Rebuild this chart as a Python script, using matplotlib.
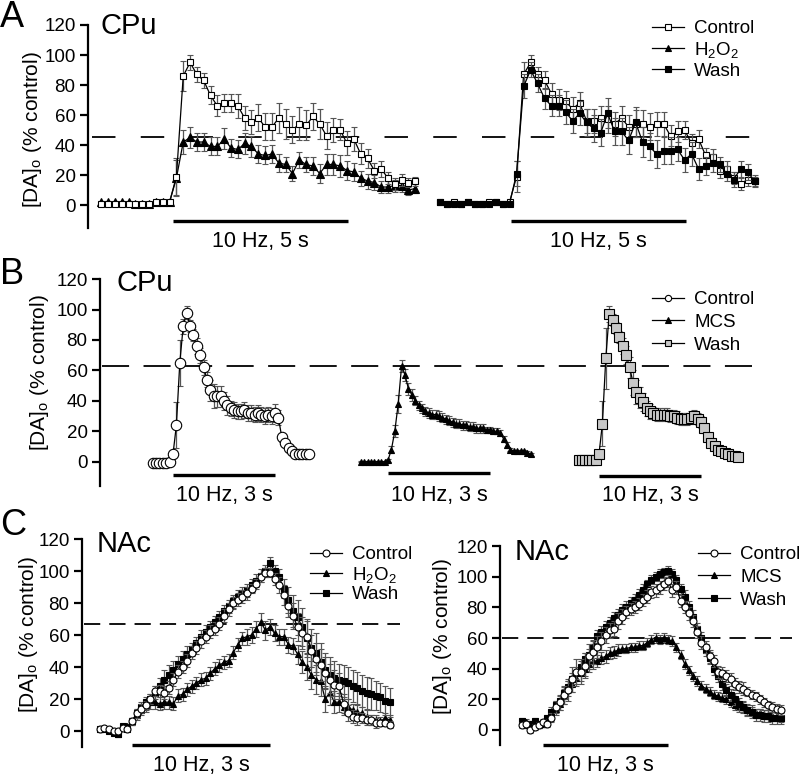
import numpy as np
import matplotlib
matplotlib.use('Agg')
import matplotlib.pyplot as plt
from matplotlib.lines import Line2D

plt.rcParams['font.family'] = ['Liberation Sans', 'DejaVu Sans']
plt.rcParams['mathtext.fontset'] = 'custom'
plt.rcParams['mathtext.rm'] = 'Liberation Sans'
plt.rcParams['mathtext.it'] = 'Liberation Sans:italic'

# ---------------- DATA ----------------
# Panel A (CPu, 10 Hz 5 s), sampling ~0.2 s
a_dt_left = 0.195
a_dt_right = 0.2
a_left_control = [1, 1, 1, 1, 1, 1, 1, 1, 2, 2, 2,
                  19, 86, 95, 87, 83, 73, 66, 68, 68, 66, 58, 55, 58, 52, 52, 58, 54, 50, 54, 53,
                  59, 54, 46, 50, 50, 41, 44, 34, 31, 23, 24, 18, 14, 17, 15, 16]
a_left_control_err = [1] * 11 + [12, 10, 5, 5, 5, 6, 7, 6, 6, 8, 8, 8, 9, 9, 9, 10, 10, 9, 11, 10,
                                 9, 10, 9, 8, 7, 8, 8, 7, 6, 5, 5, 4, 4, 4, 3, 3]
a_left_h2o2 = [2, 2, 2, 2, 2, 1, 1, 1, 2, 2, 2,
               18, 42, 45, 42, 42, 39, 39, 44, 38, 37, 41, 39, 34, 33, 34, 28, 27, 21, 30, 27,
               26, 21, 27, 27, 26, 23, 22, 18, 16, 15, 12, 12, 13, 13, 10, 11]
a_left_h2o2_err = [1] * 11 + [12, 8, 7, 6, 6, 6, 6, 7, 6, 6, 7, 7, 6, 6, 6, 6, 5, 5, 5, 5,
                              6, 6, 7, 7, 7, 6, 6, 5, 5, 5, 4, 4, 4, 4, 3, 3]
a_right_control = [2, 1, 2, 1, 2, 1, 1, 2, 2, 1, 2,
                   19, 87, 95, 87, 83, 74, 70, 69, 64, 68, 56, 56, 58, 57, 54, 58, 52, 54, 54, 52,
                   54, 54, 46, 49, 50, 41, 44, 33, 32, 23, 24, 18, 14, 17, 16]
a_right_control_err = [1] * 11 + [10, 8, 5, 5, 6, 7, 7, 7, 8, 7, 8, 8, 8, 9, 8, 8, 8, 9, 9, 9,
                                  8, 8, 7, 7, 6, 6, 6, 5, 5, 5, 5, 4, 4, 4, 3]
a_right_wash = [2, 1, 1, 1, 2, 1, 1, 1, 2, 1, 1,
                21, 79, 90, 81, 71, 66, 66, 62, 56, 61, 55, 51, 48, 61, 49, 49, 43, 55, 42, 39,
                34, 36, 36, 37, 30, 34, 24, 26, 28, 27, 21, 17, 24, 22, 16]
a_right_wash_err = [1] * 11 + [8, 8, 5, 6, 7, 7, 7, 8, 8, 8, 9, 9, 9, 10, 9, 9, 9, 10, 10, 9,
                               9, 9, 9, 8, 8, 8, 7, 6, 6, 5, 5, 5, 5, 5, 4]
a_dashed = 45
a_stim = 5.0

# Panel B (CPu, 10 Hz 3 s), sampling 0.1 s
b_dt = 0.1
b_control = [-1, -1, -1, -1, -1, 0, 5, 24, 65, 89, 98,
             89, 83, 76, 70, 62, 54, 47, 43, 43, 43, 40, 37, 35, 34, 33, 33, 34, 32, 32, 31,
             32, 31, 30, 31, 30, 32, 29, 16, 12, 9, 7, 5, 5, 5, 5, 5]
b_control_err = [0.5] * 6 + [1, 15, 15, 5, 4, 4, 4, 5, 5, 5, 5, 7, 8, 7, 7, 6, 6, 5, 5, 5,
                             5, 5, 5, 5, 5, 5, 5, 5, 5, 5, 6, 5, 3, 2, 2, 1, 1, 1, 1, 1, 1]
b_mcs = [0, 0, 0, 0, 0, 0, 0, 0,
         1, 8, 20, 38, 63, 57, 48, 44, 40, 37, 35, 33, 32, 31, 31, 30, 29, 28, 27, 26,
         25, 25, 24, 24, 23, 23, 22, 22, 22, 21, 21, 20, 20, 19, 15, 11, 8, 7, 7, 7, 7, 6, 5]
b_mcs_err = [0.3] * 8 + [1, 2, 4, 6, 4, 4, 4, 4, 3, 3, 3, 3, 3, 3, 3, 3, 3, 3, 3, 3,
                         3, 3, 3, 3, 3, 3, 3, 3, 3, 2, 2, 2, 2, 2, 2, 2, 1, 1, 1, 1, 1, 1, 1]
b_wash = [1, 1, 1, 1, 1, 1,
          5, 25, 68, 97, 93, 88, 82, 76, 70, 62, 52, 46, 42, 39, 35, 33, 32, 31, 31, 31,
          31, 30, 30, 29, 28, 28, 28, 29, 30, 28, 26, 22, 16, 12, 10, 8, 7, 6, 5, 4, 4, 3]
b_wash_err = [0.5] * 6 + [2, 15, 20, 5, 4, 4, 4, 5, 6, 7, 8, 8, 7, 6, 5, 5, 4, 4, 4, 4,
                          4, 4, 4, 4, 4, 4, 4, 4, 4, 4, 4, 3, 3, 2, 2, 2, 2, 2, 1, 1, 1, 1]
b_dashed = 63
b_stim = 3.0

# Panel C left (NAc, H2O2), sampling 0.1 s
c_dt = 0.1
cl_control = [1, 2, 1, 0, 0, 2, 1,
              6, 11, 14, 16, 20, 25, 25, 24, 27, 32, 37, 40, 44, 49, 52, 56, 59, 62, 64, 67,
              72, 76, 80, 82, 84, 86, 89, 92, 96, 99, 99, 95, 91, 85, 78, 72, 65, 61, 59, 50,
              45, 41, 36, 32, 29, 28, 17, 11, 9, 8, 8, 7, 7, 5, 5, 5, 4]
cl_control_err = [1] * 7 + [2, 3, 3, 3, 3, 3, 4, 4, 4, 4, 4, 4, 4, 4, 4, 4, 4, 4, 4, 4,
                            4, 4, 4, 4, 4, 4, 3, 3, 3, 3, 3, 4, 5, 6, 7, 8, 9, 10, 10, 10,
                            10, 10, 10, 10, 9, 8, 6, 5, 4, 4, 3, 3, 3, 3, 2, 2, 2]
cl_h2o2 = [1, 2, 1, 0, -2, 3, 3,
           6, 10, 13, 16, 18, 18, 17, 18, 18, 17, 22, 23, 26, 28, 30, 32, 33, 36, 39, 41,
           43, 44, 49, 54, 58, 59, 60, 64, 68, 63, 65, 61, 59, 59, 54, 53, 48, 43, 40, 35,
           32, 31, 20, 24, 18, 18, 15, 15, 13, 12, 11, 9, 7, 7, 6, 8, 7]
cl_h2o2_err = [1] * 7 + [2, 3, 3, 4, 4, 4, 4, 4, 4, 4, 4, 4, 4, 4, 4, 4, 4, 4, 4, 4,
                         4, 4, 4, 4, 4, 5, 5, 5, 6, 6, 5, 5, 5, 5, 5, 5, 6, 7, 8, 9,
                         9, 9, 8, 8, 7, 6, 5, 5, 4, 4, 4, 4, 3, 3, 3, 3, 3]
cl_wash = [1, 1, 0, -1, -2, 3, 1,
           6, 11, 15, 18, 20, 24, 28, 32, 35, 38, 42, 45, 48, 51, 55, 59, 62, 65, 68, 71,
           75, 78, 81, 84, 86, 88, 91, 94, 97, 100, 105, 100, 96, 89, 82, 75, 71, 65, 58, 52,
           49, 43, 38, 35, 33, 32, 31, 30, 28, 27, 25, 24, 23, 22, 21, 19, 18]
cl_wash_err = [1] * 7 + [2, 3, 3, 3, 3, 4, 5, 6, 6, 6, 5, 5, 5, 4, 4, 4, 4, 4, 4, 4,
                         4, 4, 4, 4, 4, 4, 4, 4, 4, 4, 4, 4, 5, 6, 8, 10, 11, 12, 12, 12,
                         12, 12, 11, 11, 11, 10, 10, 10, 10, 10, 10, 10, 10, 9, 9, 9, 9]
cl_dashed = 67

# Panel C right (NAc, MCS)
cr_control = [3, 4, 0, 2, 3, 5, 4, 8, 15, 18, 23, 26, 33, 38, 38, 42, 48, 51, 54, 58,
              62, 65, 66, 71, 74, 77, 79, 80, 82, 85, 87, 90, 91, 93, 95, 97, 91, 93, 84, 80,
              76, 71, 64, 57, 54, 48, 45, 38, 37, 35, 33, 30, 28, 27, 25, 23, 22, 20, 18, 16,
              15, 14, 13]
cr_control_err = [2, 2, 2, 2, 2, 2, 2, 3, 4, 5, 6, 7, 8, 8, 8, 8, 8, 8, 7, 6,
                  5, 5, 5, 5, 5, 4, 4, 4, 4, 4, 4, 4, 4, 4, 4, 4, 4, 4, 4, 4,
                  4, 4, 4, 4, 4, 4, 4, 4, 4, 4, 4, 4, 4, 4, 3, 3, 3, 3, 3, 3, 3, 3, 3]
cr_mcs = [4, 5, 4, 4, 3, 4, 5, 9, 14, 17, 22, 27, 30, 34, 37, 40, 43, 45, 45, 47,
          48, 50, 51, 52, 53, 53, 54, 54, 55, 55, 57, 59, 60, 59, 60, 59, 58, 54, 49, 43,
          39, 35, 32, 29, 27, 25, 23, 22, 21, 20, 18, 16, 15, 15, 13, 12, 11, 11, 10, 10,
          9, 9, 8]
cr_mcs_err = [2, 2, 2, 2, 2, 2, 2, 3, 4, 4, 5, 5, 5, 5, 5, 5, 5, 5, 4, 4,
              4, 4, 4, 4, 3, 3, 3, 3, 3, 3, 3, 3, 3, 3, 3, 3, 3, 3, 3, 3,
              3, 3, 3, 3, 3, 3, 3, 3, 3, 3, 3, 3, 3, 3, 3, 3, 3, 3, 3, 3, 3, 3, 3]
cr_wash = [6, 3, 4, 6, 4, 4, 8, 12, 16, 19, 24, 28, 33, 37, 41, 46, 49, 54, 61, 64,
           67, 70, 73, 75, 78, 80, 83, 85, 88, 91, 95, 98, 100, 102, 103, 104, 102, 98, 92, 87,
           80, 74, 66, 60, 52, 47, 40, 35, 30, 26, 23, 20, 17, 15, 13, 12, 10, 10, 9, 9,
           8, 8, 8]
cr_wash_err = [2, 2, 2, 2, 2, 2, 2, 3, 3, 3, 4, 4, 4, 4, 4, 4, 4, 4, 4, 4,
               4, 4, 4, 4, 4, 4, 4, 4, 4, 4, 3, 3, 3, 3, 3, 3, 3, 3, 3, 4,
               4, 4, 4, 4, 4, 4, 4, 4, 4, 4, 4, 4, 4, 4, 4, 4, 4, 4, 4, 4, 4, 4, 4]
cr_dashed = 60
c_stim = 3.0

yticks = [0, 20, 40, 60, 80, 100, 120]
ylabel = '[DA]$_\\mathregular{o}$ (% control)'
h2o2_label = 'H$_\\mathregular{2}$O$_\\mathregular{2}$'

# ---------------- FIGURE ----------------
W, H = 800, 775
fig = plt.figure(figsize=(W / 100, H / 100), dpi=100)

TICK_FS = 13.5
LEG_FS = 13.5
STIM_FS = 15.5
YLAB_FS = 15
REG_FS = 21
LET_FS = 26


class PxAxes:
    def __init__(self, left, right, top, bottom, x0, xs, y0, ys, spine_bottom):
        self.x0, self.xs, self.y0, self.ys = x0, xs, y0, ys
        ax = fig.add_axes([left / W, 1 - bottom / H, (right - left) / W, (bottom - top) / H])
        ax.set_xlim((left - x0) / xs, (right - x0) / xs)
        ax.set_ylim((y0 - bottom) / ys, (y0 - top) / ys)
        ax.patch.set_visible(False)
        for s in ('top', 'right', 'bottom'):
            ax.spines[s].set_visible(False)
        ax.spines['left'].set_linewidth(1.6)
        ax.spines['left'].set_bounds(spine_bottom, 120)
        ax.set_xticks([])
        ax.set_yticks(yticks)
        ax.tick_params(axis='y', direction='out', length=6, width=1.6,
                       labelsize=TICK_FS, pad=3)
        self.ax = ax

    def tx(self, px):
        return (px - self.x0) / self.xs

    def ty(self, py):
        return (self.y0 - py) / self.ys


def series(ax, t, y, err, marker, mfc, ms, z, mew=0.8):
    ax.errorbar(t, y, yerr=err, fmt='-', color='black', lw=0.9, marker=marker,
                mfc=mfc, mec='black', ms=ms, mew=mew, ecolor='#555555',
                elinewidth=0.9, capsize=2, capthick=0.9, zorder=z)


def stim(pa, start, dur, py_bar, py_text, label):
    yb = pa.ty(py_bar)
    pa.ax.plot([start, start + dur], [yb, yb], color='black', lw=2.4,
               solid_capstyle='butt', clip_on=False)
    pa.ax.text(start + dur / 2, pa.ty(py_text), label, ha='center', va='center',
               fontsize=STIM_FS, clip_on=False)


def dashed(pa, level, px_from, px_to, dash):
    pa.ax.plot([pa.tx(px_from), pa.tx(px_to)], [level, level], color='black', lw=1.3,
               linestyle=(0, dash), zorder=1)


def ftext(px, py, s, **kw):
    fig.text(px / W, 1 - py / H, s, **kw)


def legend(pa, handles, labels, px, py, hl=1.7, tp=0.55, ls=0.2):
    pa.ax.legend(handles, labels, loc='upper left', bbox_to_anchor=(px / W, 1 - py / H),
                 bbox_transform=fig.transFigure, frameon=False, fontsize=LEG_FS,
                 handlelength=hl, handletextpad=tp, labelspacing=ls, borderpad=0,
                 borderaxespad=0)


def handle(marker, mfc, ms):
    return Line2D([], [], color='black', lw=0.9, marker=marker, mfc=mfc, mec='black',
                  ms=ms, mew=0.8)


# ---- Panel A ----
A = PxAxes(88, 800, 12, 258, 173, 35.0, 205, 1.5, -15)
a_off = (511 - 173) / 35.0
t_al = (np.arange(len(a_left_control)) - 10.5) * a_dt_left
t_ar = (np.arange(len(a_right_control)) - 10.2) * a_dt_right + a_off
dashed(A, a_dashed, 92, 762, (13, 14))
series(A.ax, t_al, a_left_h2o2, a_left_h2o2_err, '^', 'black', 5.5, 3)
series(A.ax, t_al, a_left_control, a_left_control_err, 's', 'white', 5, 4)
series(A.ax, t_ar, a_right_control, a_right_control_err, 's', 'white', 5, 3)
series(A.ax, t_ar, a_right_wash, a_right_wash_err, 's', 'black', 5, 4)
stim(A, 0, a_stim, 221, 242, '10 Hz, 5 s')
stim(A, a_off, a_stim, 221, 242, '10 Hz, 5 s')
legend(A, [handle('s', 'white', 4.5), handle('^', 'black', 5), handle('s', 'black', 4.5)],
       ['Control', h2o2_label, 'Wash'], 652, 20, ls=0.15)

# ---- Panel B ----
B = PxAxes(100, 800, 268, 508, 173, 34.0, 461.7, 1.522, -16)
b_off_mid = (388 - 173) / 34.0
b_off_right = (599 - 173) / 34.0
t_bc = -0.6 + b_dt * np.arange(len(b_control))
t_bm = -0.8 + b_dt * np.arange(len(b_mcs)) + b_off_mid
t_bw = -0.6 + b_dt * np.arange(len(b_wash)) + b_off_right
dashed(B, b_dashed, 102, 755, (15, 8))
series(B.ax, t_bc, b_control, b_control_err, 'o', 'white', 7.5, 3)
series(B.ax, t_bm, b_mcs, b_mcs_err, '^', 'black', 5, 3)
series(B.ax, t_bw, b_wash, b_wash_err, 's', '#c8c8c8', 6.5, 3)
stim(B, 0, b_stim, 475, 495, '10 Hz, 3 s')
stim(B, b_off_mid, b_stim, 473, 495, '10 Hz, 3 s')
stim(B, b_off_right, b_stim, 476, 495, '10 Hz, 3 s')
legend(B, [handle('o', 'white', 4.5), handle('^', 'black', 5), handle('s', '#c8c8c8', 4.5)],
       ['Control', 'MCS', 'Wash'], 652, 291, ls=0.3)

# ---- Panel C left ----
CL = PxAxes(82, 405, 528, 775, 132, 46.0, 731, 1.6, -10)
t_cl = -0.7 + c_dt * np.arange(len(cl_control))
dashed(CL, cl_dashed, 84, 400, (9, 5))
series(CL.ax, t_cl, cl_h2o2, cl_h2o2_err, '^', 'black', 5, 3)
series(CL.ax, t_cl, cl_wash, cl_wash_err, 's', 'black', 4.5, 4)
series(CL.ax, t_cl, cl_control, cl_control_err, 'o', 'white', 5, 5)
stim(CL, 0, c_stim, 745, 765, '10 Hz, 3 s')
legend(CL, [handle('o', 'white', 5), handle('^', 'black', 5), handle('s', 'black', 4.5)],
       ['Control', h2o2_label, 'Wash'], 310, 546, ls=0.08)

# ---- Panel C right ----
CR = PxAxes(500, 800, 533, 775, 543, 41.7, 730, 1.533, -10)
t_cr = -0.5 + c_dt * np.arange(len(cr_control))
dashed(CR, cr_dashed, 502, 792, (9, 5))
series(CR.ax, t_cr, cr_mcs, cr_mcs_err, '^', 'black', 5, 3)
series(CR.ax, t_cr, cr_wash, cr_wash_err, 's', 'black', 4.5, 4)
series(CR.ax, t_cr, cr_control, cr_control_err, 'o', 'white', 5, 5)
stim(CR, 0, c_stim, 745, 765, '10 Hz, 3 s')
legend(CR, [handle('o', 'white', 5), handle('^', 'black', 5), handle('s', 'black', 4.5)],
       ['Control', 'MCS', 'Wash'], 698, 546, ls=0.3)

# ---- texts ----
ftext(0, 0, 'A', fontsize=LET_FS, ha='left', va='top')
ftext(0, 257, 'B', fontsize=LET_FS, ha='left', va='top')
ftext(0, 508, 'C', fontsize=LET_FS, ha='left', va='top')
ftext(100, 26, 'CPu', fontsize=REG_FS, ha='left', va='center')
ftext(117, 283, 'CPu', fontsize=REG_FS, ha='left', va='center')
ftext(97, 544, 'NAc', fontsize=REG_FS, ha='left', va='center')
ftext(515, 552, 'NAc', fontsize=REG_FS, ha='left', va='center')
ftext(33, 130, ylabel, fontsize=YLAB_FS, rotation=90, ha='center', va='center')
ftext(40, 373, ylabel, fontsize=YLAB_FS, rotation=90, ha='center', va='center')
ftext(28, 635, ylabel, fontsize=YLAB_FS, rotation=90, ha='center', va='center')
ftext(442, 637, ylabel, fontsize=YLAB_FS, rotation=90, ha='center', va='center')

fig.savefig('out.png', dpi=100)
